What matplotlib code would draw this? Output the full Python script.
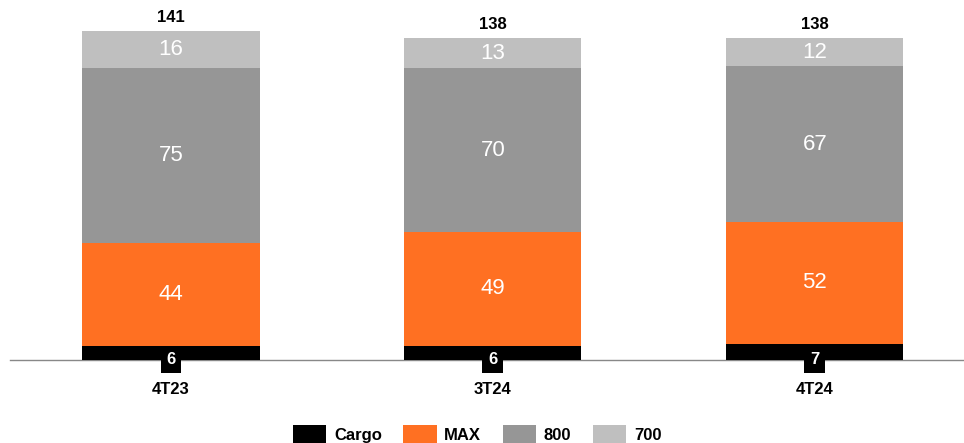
import matplotlib.pyplot as plt
import numpy as np

plt.rcParams['font.family'] = ['Liberation Sans', 'DejaVu Sans']

# data
periods = ['4T23', '3T24', '4T24']
cargo = [6, 6, 7]
max_ = [44, 49, 52]
b800 = [75, 70, 67]
b700 = [16, 13, 12]
totals = [141, 138, 138]

series = [('Cargo', cargo, '#000000'),
          ('MAX', max_, '#FF7022'),
          ('800', b800, '#969696'),
          ('700', b700, '#BFBFBF')]

fig = plt.figure(figsize=(9.64, 4.43), dpi=100)
ax = fig.add_axes([10 / 964, 83 / 443, 954 / 964, 350 / 443])

x = np.arange(len(periods))
bottom = np.zeros(len(periods))
for name, vals, color in series:
    vals = np.array(vals)
    ax.bar(x, vals, 0.55, bottom=bottom, color=color, label=name, zorder=2)
    for xi, b, v in zip(x, bottom, vals):
        if name == 'Cargo':
            ax.text(xi, 0, str(v), ha='center', va='center', color='white',
                    fontsize=12, fontweight='bold', zorder=4,
                    bbox=dict(boxstyle='square,pad=0.35', fc='black', ec='none'))
        else:
            ax.text(xi, b + v / 2, str(v), ha='center', va='center',
                    color='white', fontsize=16, zorder=3)
    bottom += vals

for xi, t in zip(x, totals):
    ax.text(xi, t + 2.5, str(t), ha='center', va='bottom', fontsize=12,
            fontweight='bold')

ax.set_xlim(-0.5, 2.463)
ax.set_ylim(0, 150)
ax.set_xticks(x)
ax.set_xticklabels(periods, fontsize=12, fontweight='bold')
ax.tick_params(axis='x', length=0, pad=16)
ax.set_yticks([])
for s in ['top', 'right', 'left']:
    ax.spines[s].set_visible(False)
ax.spines['bottom'].set_color('#888888')
ax.spines['bottom'].set_linewidth(1)
ax.spines['bottom'].set_zorder(1)

fig.legend(loc='lower center', bbox_to_anchor=(0.495, -0.035), ncol=4,
           frameon=False, handlelength=2.0, handleheight=1.3,
           columnspacing=1.3, handletextpad=0.45,
           prop={'weight': 'bold', 'size': 12})

fig.savefig('out.png', dpi=100)
